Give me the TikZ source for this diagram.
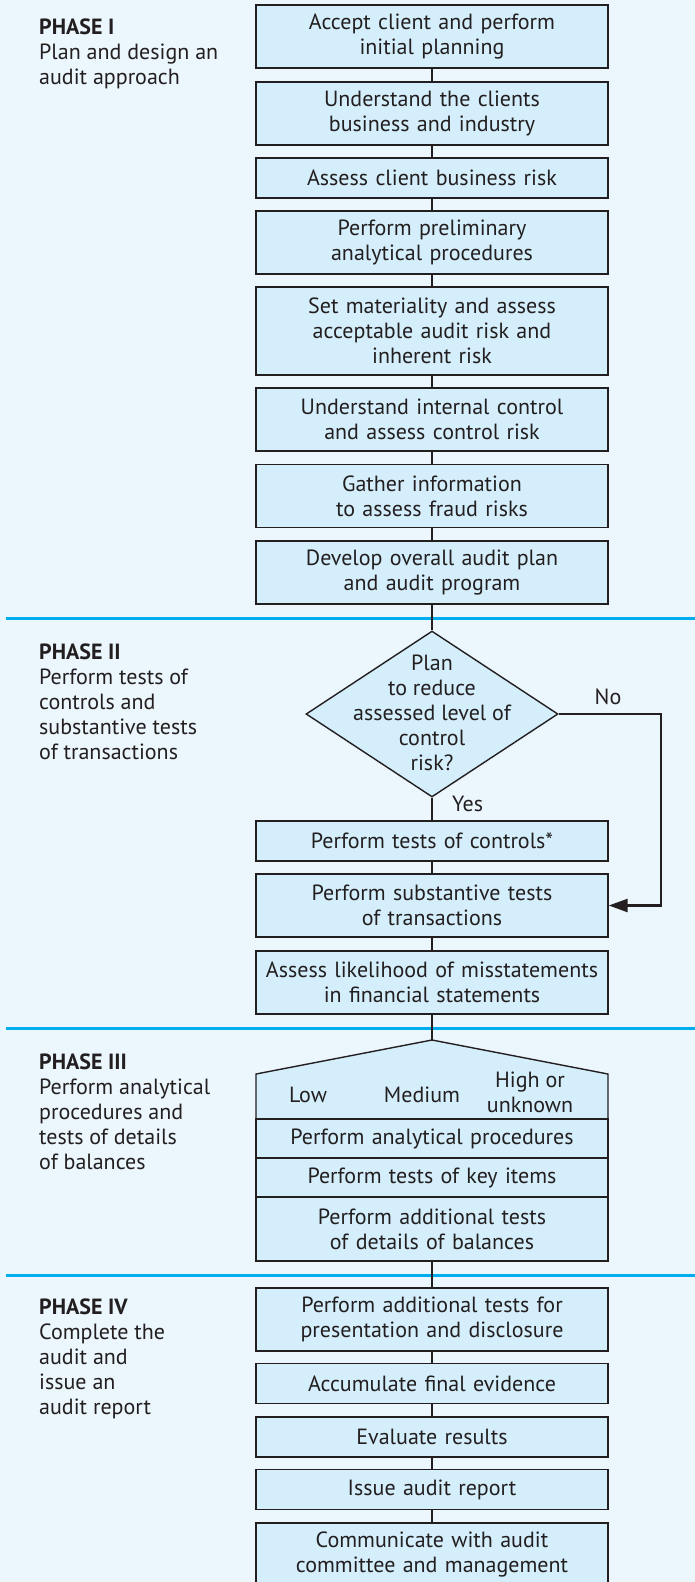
\documentclass[tikz,border=0pt]{standalone}
\usepackage{fontspec}
\setmainfont{PT Sans}
\usetikzlibrary{shapes.geometric, arrows.meta}
\definecolor{pagebg}{RGB}{235,246,253}
\definecolor{boxfill}{RGB}{212,238,251}
\definecolor{phaseblue}{RGB}{0,174,239}
\definecolor{ink}{RGB}{35,31,32}

\begin{document}
\begin{tikzpicture}[x=1pt, y=-1pt,
		box/.style={draw=ink, fill=boxfill, line width=1.4pt, align=center, text=ink,
			inner sep=0pt, minimum width=352pt, minimum height=40pt, text width=345pt,
			font=\fontsize{22}{25}\selectfont},
		dec/.style={diamond, draw=ink, fill=boxfill, line width=1.4pt, inner sep=0pt,
			minimum width=252pt, minimum height=166pt},
		lbl/.style={text=ink, inner sep=0pt, align=center, font=\fontsize{22}{25}\selectfont},
		phase/.style={text=ink, inner sep=0pt, anchor=north west, align=left,
			font=\fontsize{22}{25}\selectfont},
		conn/.style={draw=ink, line width=2.5pt},
		sep/.style={draw=phaseblue, line width=3pt}]
	
	%% -- page --
	\fill[pagebg] (0,0) rectangle (695,1582);
	\useasboundingbox (0,0) rectangle (695,1582);
	
	%% -- phase separators --
	\foreach \y in {618, 1028, 1275}
	\draw[sep] (6,\y) -- (695,\y);
	
	%% -- phase titles --
	\node[phase] (p1) at (39,19) {\textbf{PHASE I}\\Plan and design an\\audit approach};
	\node[phase] (p2) at (39,644) {\textbf{PHASE II}\\Perform tests of\\controls and\\substantive tests\\of transactions};
	\node[phase] (p3) at (39,1054) {\textbf{PHASE III}\\Perform analytical\\procedures and\\tests of details\\of balances};
	\node[phase] (p4) at (39,1299) {\textbf{PHASE IV}\\Complete the\\audit and\\issue an\\audit report};
	
	%% -- phase I --
	\node[box, minimum height=63pt] (a1) at (432,36.5) {Accept client and perform\\initial planning};
	\node[box, minimum height=63pt] (a2) at (432,113.5) {Understand the clients\\business and industry};
	\node[box] (a3) at (432,178) {Assess client business risk};
	\node[box, minimum height=63pt] (a4) at (432,242.5) {Perform preliminary\\analytical procedures};
	\node[box, minimum height=88pt] (a5) at (432,331) {Set materiality and assess\\acceptable audit risk and\\inherent risk};
	\node[box, minimum height=63pt] (a6) at (432,419.5) {Understand internal control\\and assess control risk};
	\node[box, minimum height=63pt] (a7) at (432,496) {Gather information\\to assess fraud risks};
	\node[box, minimum height=63pt] (a8) at (432,572.5) {Develop overall audit plan\\and audit program};
	
	%% -- phase II --
	\node[dec] (q) at (432,714) {};
	\node[lbl] (qt) at (432,713) {Plan\\to reduce\\assessed level of\\control\\risk?};
	\node[lbl] (no) at (608,697) {No};
	\node[lbl, anchor=west] (yes) at (452,804) {Yes};
	\node[box] (b1) at (432,841) {Perform tests of controls*};
	\node[box, minimum height=63pt] (b2) at (432,905.5) {Perform substantive tests\\of transactions};
	\node[box, minimum height=63pt] (b3) at (432,982.5) {Assess likelihood of misstatements\\in financial statements};
	\coordinate (turn) at (661,714);
	
	%% -- phase III --
	\coordinate (apex) at (432,1040);
	\draw[draw=ink, fill=boxfill, line width=1.4pt]
	(256,1119) -- (256,1074) -- (apex) -- (608,1074) -- (608,1119) -- cycle;
	\node[lbl] (low) at (308,1095) {Low};
	\node[lbl] (med) at (422,1095) {Medium};
	\node[lbl] (high) at (530,1092.5) {High or\\unknown};
	\node[box, minimum height=39pt] (c2) at (432,1138.5) {Perform analytical procedures};
	\node[box, minimum height=39pt] (c3) at (432,1177.5) {Perform tests of key items};
	\node[box, minimum height=64pt] (c4) at (432,1229) {Perform additional tests\\of details of balances};
	
	%% -- phase IV --
	\node[box, minimum height=63pt] (d1) at (432,1319.5) {Perform additional tests for\\presentation and disclosure};
	\node[box] (d2) at (432,1383.5) {Accumulate final evidence};
	\node[box] (d3) at (432,1437) {Evaluate results};
	\node[box] (d4) at (432,1489.5) {Issue audit report};
	\node[box, minimum height=63pt] (d5) at (432,1554.5) {Communicate with audit\\committee and management};
	
	%% -- connectors --
	\foreach \u/\v in {a1/a2, a2/a3, a3/a4, a4/a5, a5/a6, a6/a7, a7/a8, a8/q, q/b1,
		b1/b2, b2/b3, b3/apex, c4/d1, d1/d2, d2/d3, d3/d4, d4/d5}
	\draw[conn] (\u) -- (\v);
	
	\draw[conn, -{Triangle[length=19pt, width=13pt]}] (q.east) -- (turn) |- (b2.east);
	
\end{tikzpicture}
\end{document}
